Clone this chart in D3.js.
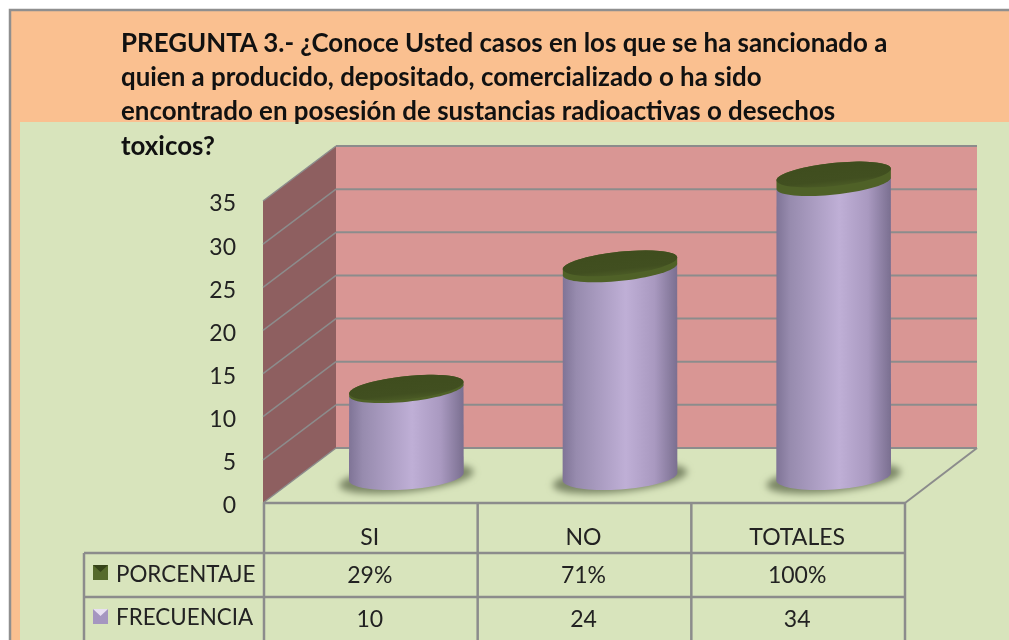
<!DOCTYPE html>
<html>
<head>
<meta charset="utf-8">
<script src="https://cdn.jsdelivr.net/npm/d3@7"></script>
<style>
  html, body { margin: 0; padding: 0; background: #fff; overflow: hidden; }
  svg { display: block; font-family: Lato, "Open Sans", sans-serif; filter: blur(0.45px); }
</style>
</head>
<body>
<div id="chart"></div>
<script>
const categories = ["SI", "NO", "TOTALES"];
const frecuencia = [10, 24, 34];
const porcentaje = [0.29, 0.71, 1];
const porcentajeLabels = ["29%", "71%", "100%"];
const yTicks = [0, 5, 10, 15, 20, 25, 30, 35];
const titleLines = [
    "PREGUNTA 3.- ¿Conoce Usted casos en los que se ha sancionado a",
    "quien a producido, depositado, comercializado o ha sido",
    "encontrado en posesión de sustancias radioactivas o desechos",
    "toxicos?"
];

const width = 1009, height = 640;
const grey = "#8c8c8c";

const svg = d3.select("#chart").append("svg")
    .attr("width", width)
    .attr("height", height);

const defs = svg.append("defs");

const bodyGrad = defs.append("linearGradient").attr("id", "body");
[[0, "#7f7496"], [0.12, "#978bae"], [0.55, "#bfafd6"], [0.8, "#a999c0"], [1, "#7a6f90"]].forEach(s => {
    bodyGrad.append("stop").attr("offset", s[0]).attr("stop-color", s[1]);
});

const topGrad = defs.append("linearGradient").attr("id", "top")
    .attr("x1", 0).attr("y1", 0).attr("x2", 0).attr("y2", 1);
[[0, "#3f4d1e"], [0.75, "#414f20"], [1, "#4a5a25"]].forEach(s => {
    topGrad.append("stop").attr("offset", s[0]).attr("stop-color", s[1]);
});

defs.append("filter").attr("id", "blur")
    .attr("x", "-20%").attr("y", "-40%").attr("width", "140%").attr("height", "180%")
    .append("feGaussianBlur").attr("stdDeviation", 3.5);

// frame and backgrounds
svg.append("rect").attr("x", 10).attr("y", 10).attr("width", width).attr("height", height)
    .attr("fill", "#fac090").attr("stroke", "#8f8f8f").attr("stroke-width", 2.5);
svg.append("rect").attr("x", 20).attr("y", 122).attr("width", width - 20).attr("height", height - 122)
    .attr("fill", "#d8e4bc");

// scales
const x = d3.scaleBand().domain(categories).range([264, 905]);
const y = d3.scaleLinear().domain([0, 35]).range([503, 201]);
const depthX = 73, depthY = -55;

// back wall, side wall, floor
svg.append("rect")
    .attr("x", x.range()[0] + depthX - 1).attr("y", y(35) + depthY)
    .attr("width", x.range()[1] - x.range()[0]).attr("height", y(0) - y(35))
    .attr("fill", "#d99694");

const wall = d3.line();
svg.append("path")
    .attr("d", wall([
        [x.range()[0] - 1, y(0)], [x.range()[0] - 1, y(35)],
        [x.range()[0] + depthX - 1, y(35) + depthY], [x.range()[0] + depthX - 1, y(0) + depthY]
    ]) + "Z")
    .attr("fill", "#8e5f60");

svg.selectAll(".gridBack").data(yTicks).enter().append("line")
    .attr("class", "gridBack")
    .attr("x1", x.range()[0] + depthX - 1).attr("x2", x.range()[1] + depthX - 1)
    .attr("y1", d => y(d) + depthY).attr("y2", d => y(d) + depthY)
    .attr("stroke", grey).attr("stroke-width", 2);

svg.selectAll(".gridSide").data(yTicks).enter().append("line")
    .attr("class", "gridSide")
    .attr("x1", x.range()[0] - 1).attr("x2", x.range()[0] + depthX - 1)
    .attr("y1", d => y(d)).attr("y2", d => y(d) + depthY)
    .attr("stroke", grey).attr("stroke-width", 1.5);

svg.append("line")
    .attr("x1", x.range()[1]).attr("y1", y(0))
    .attr("x2", x.range()[1] + depthX - 1).attr("y2", y(0) + depthY)
    .attr("stroke", grey).attr("stroke-width", 2);

// y axis labels
const yAxis = d3.axisLeft(y).tickValues(yTicks).tickSize(0).tickPadding(28);
const yG = svg.append("g").attr("transform", `translate(${x.range()[0]},2.5)`).call(yAxis);
yG.select(".domain").remove();
yG.selectAll("text").attr("font-size", 23).attr("font-family", "Lato").attr("fill", "#222");

// cylinders
const rx = 57.5, ry = 11.5, tilt = -6;
const cx = d => x(d) + x.bandwidth() / 2 + depthX / 2 - 1;
const baseOffset = 26.5;

function ellipsePoint(c, cy, a, r, deg) {
    const t = deg * Math.PI / 180;
    return [c + rx * Math.cos(a) * Math.cos(t) - r * Math.sin(a) * Math.sin(t),
            cy + rx * Math.cos(a) * Math.sin(t) + r * Math.sin(a) * Math.cos(t)];
}

categories.forEach((c, i) => {
    const g = svg.append("g").attr("class", "cyl");
    const base = y(0) - baseOffset;
    const h = y(0) - y(frecuencia[i]);
    const topY = base - h;
    const capY = topY - (y(0) - y(porcentaje[i]));

    g.append("ellipse")
        .attr("cx", cx(c)).attr("cy", base + 2)
        .attr("rx", rx + 10).attr("ry", ry + 2)
        .attr("transform", `rotate(${tilt} ${cx(c)} ${base + 2})`)
        .attr("fill", "#7c8766").attr("filter", "url(#blur)");

    // the base reads a little rounder and flatter than the top
    const pts = d3.range(0, 180.5, 5).map(a => ellipsePoint(cx(c), base, a * Math.PI / 180, 13, -4));
    const left = ellipsePoint(cx(c), topY, Math.PI, ry, tilt);
    const right = ellipsePoint(cx(c), topY, 0, ry, tilt);
    g.append("path")
        .attr("d", d3.line()([right, ...pts, left]) + "Z")
        .attr("fill", "url(#body)");

    // thin percent segment on top of the frequency cylinder
    const capLow = d3.range(0, 180.5, 5).map(a => ellipsePoint(cx(c), topY, a * Math.PI / 180, ry, tilt));
    const capHigh = d3.range(180, 360.5, 5).map(a => ellipsePoint(cx(c), capY, a * Math.PI / 180, ry, tilt));
    g.append("path")
        .attr("d", d3.line()([...capLow, ...capHigh]) + "Z")
        .attr("fill", "#4f6127");
    g.append("ellipse")
        .attr("cx", cx(c)).attr("cy", capY)
        .attr("rx", rx).attr("ry", ry)
        .attr("transform", `rotate(${tilt} ${cx(c)} ${capY})`)
        .attr("fill", "url(#top)");
});

// table
const rowY = [503, 553, 597, 640];
const legendX = 84;
const colX = x.range()[0];

svg.append("line").attr("x1", colX).attr("x2", x.range()[1]).attr("y1", rowY[0]).attr("y2", rowY[0])
    .attr("stroke", grey).attr("stroke-width", 2.5);
[rowY[1], rowY[2]].forEach(r => {
    svg.append("line").attr("x1", legendX).attr("x2", x.range()[1]).attr("y1", r).attr("y2", r)
        .attr("stroke", grey).attr("stroke-width", 2.5);
});
[colX, colX + x.step(), colX + 2 * x.step(), x.range()[1]].forEach(v => {
    svg.append("line").attr("x1", v).attr("x2", v).attr("y1", rowY[0]).attr("y2", height)
        .attr("stroke", grey).attr("stroke-width", 2.5);
});
svg.append("line").attr("x1", legendX).attr("x2", legendX).attr("y1", rowY[1]).attr("y2", height)
    .attr("stroke", grey).attr("stroke-width", 2.5);

const cellText = (txt, xp, yp, anchor) => svg.append("text")
    .attr("x", xp).attr("y", yp).attr("text-anchor", anchor || "middle")
    .attr("font-size", 23).attr("fill", "#222").text(txt);

categories.forEach((c, i) => {
    const mid = x(c) + x.bandwidth() / 2 - 1;
    cellText(c, mid, 545);
    cellText(porcentajeLabels[i], mid, 583);
    cellText(frecuencia[i], mid, 627);
});

// legend keys
const legendRows = [
    { name: "PORCENTAJE", y: 582, keyY: 565, key: "#566a2c", hi: "#364319" },
    { name: "FRECUENCIA", y: 625, keyY: 609, key: "#a596c0", hi: "#e8e0f2" }
];
legendRows.forEach(r => {
    cellText(r.name, 116, r.y, "start").attr("font-size", 22.4);
    svg.append("rect").attr("x", 93).attr("y", r.keyY).attr("width", 15).attr("height", 15).attr("fill", r.key);
    svg.append("path")
        .attr("d", d3.line()([[93, r.keyY], [108, r.keyY], [100.5, r.keyY + 7]]) + "Z")
        .attr("fill", r.hi);
});

// title
svg.selectAll(".title").data(titleLines).enter().append("text")
    .attr("class", "title")
    .attr("x", 121)
    .attr("y", (d, i) => 52 + i * 34.2)
    .attr("font-size", 25.9)
    .attr("font-weight", 700)
    .attr("fill", "#111")
    .text(d => d);
</script>
</body>
</html>
